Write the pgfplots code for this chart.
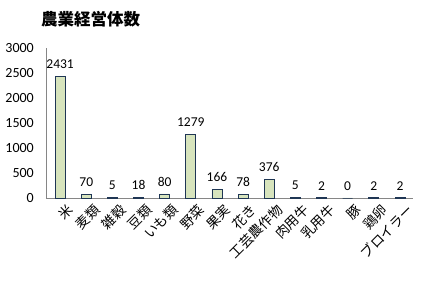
\documentclass[border=0pt]{standalone}
\usepackage{pgfplots}
\pgfplotsset{compat=1.18}
\usepackage{fontspec}
\setmainfont{Carlito}
\newfontfamily\jp{Noto Sans CJK JP}
\definecolor{barfill}{HTML}{D7E4BD}
\definecolor{baredge}{HTML}{1F3654}
\definecolor{axisgray}{HTML}{868686}
\begin{document}
\begin{tikzpicture}[x=1pt,y=1pt]
\begin{axis}[
  at={(46pt,83pt)}, anchor=south west,
  scale only axis, width=367pt, height=150pt,
  ymin=0, ymax=3000, ytick={0,500,...,3000},
  xmin=-0.54, xmax=13.5,
  xtick=data,
  xticklabels={米,麦類,雑穀,豆類,いも類,野菜,果実,花き,工芸農作物,肉用牛,乳用牛,豚,鶏卵,ブロイラー},
  xticklabel style={font=\jp\fontsize{13.5}{13.5}\selectfont, rotate=45, anchor=north east, inner sep=0pt, xshift=4pt, yshift=-5pt},
  yticklabel style={font=\fontsize{14}{14}\selectfont, inner sep=1pt, xshift=-11pt},
  /pgf/number format/.cd, assume math mode=true, 1000 sep={},
  /pgfplots/.cd,
  scaled y ticks=false,
  axis x line*=bottom, axis y line*=left,
  axis line style={axisgray, line width=0.8pt},
  tick style={draw=none},
  ybar, bar width=10pt,
  nodes near coords,
  every node near coord/.append style={font=\fontsize{13.5}{13.5}\selectfont, yshift=4pt, text=black},
  clip=false,
]
\addplot[fill=barfill, draw=baredge, line width=0.8pt] coordinates {
  (0,2431) (1,70) (2,5) (3,18) (4,80) (5,1279) (6,166) (7,78)
  (8,376) (9,5) (10,2) (11,0) (12,2) (13,2)};
\end{axis}
\node[font=\jp\bfseries\fontsize{16.5}{16.5}\selectfont, anchor=west, inner sep=0pt] at (41pt,262pt) {農業経営体数};
\pgfresetboundingbox
\path[use as bounding box] (0,0) rectangle (421pt,281pt);
\end{tikzpicture}
\end{document}
